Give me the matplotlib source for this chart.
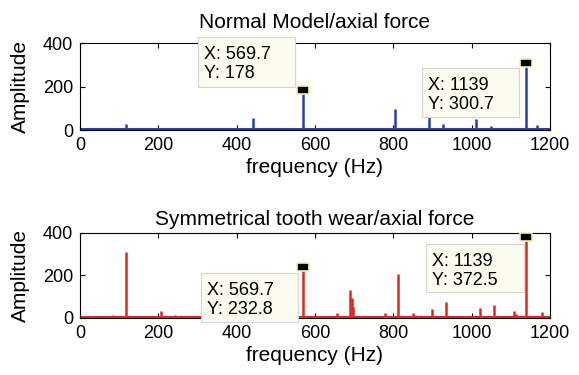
import matplotlib.pyplot as plt
from matplotlib.patches import Rectangle

plt.rcParams['font.family'] = ['Liberation Sans', 'DejaVu Sans']

# Peak lists (Hz, amplitude)
normal_freq = [117, 240, 443, 569.7, 650, 688, 723, 772, 805, 843, 892, 927, 976, 1011, 1050, 1139, 1167]
normal_amp = [26, 12, 56, 178, 10, 12, 8, 10, 98, 8, 70, 30, 10, 50, 18, 300.7, 22]

wear_freq = [30, 84, 117, 206, 242, 278, 569.7, 657, 690, 694, 698, 728, 779, 812, 851, 855,
             899, 934, 985, 1021, 1057, 1108, 1112, 1139, 1179]
wear_amp = [8, 12, 312, 32, 12, 10, 232.8, 22, 130, 95, 50, 6, 25, 205, 22, 12,
            40, 73, 10, 45, 60, 35, 18, 372.5, 30]

base_level = [3, 4]  # noise floor, normal / wear

titles = ["Normal Model/axial force", "Symmetrical tooth wear/axial force"]
title_pad = [11, 6]
tips = [[(569.7, 178), (1139, 300.7)], [(569.7, 232.8), (1139, 372.5)]]
# datatip boxes: (left, right, bottom, top) in data coords
tip_box = [[(301, 549, 198, 428), (873, 1121, 60, 285)],
           [(309, 557, -19, 212), (883, 1134, 122, 348)]]

# flat rectangle marker like the MATLAB datatip
tip_marker = [(-1.4, -1), (1.4, -1), (1.4, 1), (-1.4, 1), (-1.4, -1)]

fig = plt.figure(figsize=(5.79, 3.75), dpi=100)
ax1 = fig.add_axes([0.138, 0.653, 0.812, 0.232])
ax2 = fig.add_axes([0.138, 0.152, 0.812, 0.227])

series = [(ax1, normal_freq, normal_amp, '#2b3fa6'), (ax2, wear_freq, wear_amp, '#e0271f')]
for i, (ax, f, a, c) in enumerate(series):
    ax.hlines(base_level[i], 0, 1200, color=c, linewidth=2.2, zorder=2)
    ax.vlines(f, 0, a, color=c, linewidth=1.8, zorder=3)
    ax.set_xlim(0, 1200)
    ax.set_ylim(0, 400)
    ax.set_xticks(range(0, 1201, 200))
    ax.set_yticks([0, 200, 400])
    ax.tick_params(direction='in', top=True, right=True, labelsize=13, length=3.5, pad=5)
    ax.set_xlabel("frequency (Hz)", fontsize=15, labelpad=3)
    ax.set_ylabel("Amplitude", fontsize=15, labelpad=9)
    ax.set_title(titles[i], fontsize=15, pad=title_pad[i])
    for (x, y), (l, r, b, t) in zip(tips[i], tip_box[i]):
        ax.add_patch(Rectangle((l, b), r - l, t - b, fc='#fbfbef', ec='#d6d6cc', lw=0.8,
                               zorder=5, clip_on=False))
        ax.text(l + 16, t - 42, f"X: {x:g}\nY: {y:g}", fontsize=13, va='top', ha='left',
                linespacing=1.15, zorder=6, clip_on=False)
        ax.plot(x, y + 6, marker=tip_marker, markersize=9, markerfacecolor='black',
                markeredgecolor='#f3f0b0', markeredgewidth=1.2, zorder=7, clip_on=False)

plt.savefig("out.png", dpi=100)
